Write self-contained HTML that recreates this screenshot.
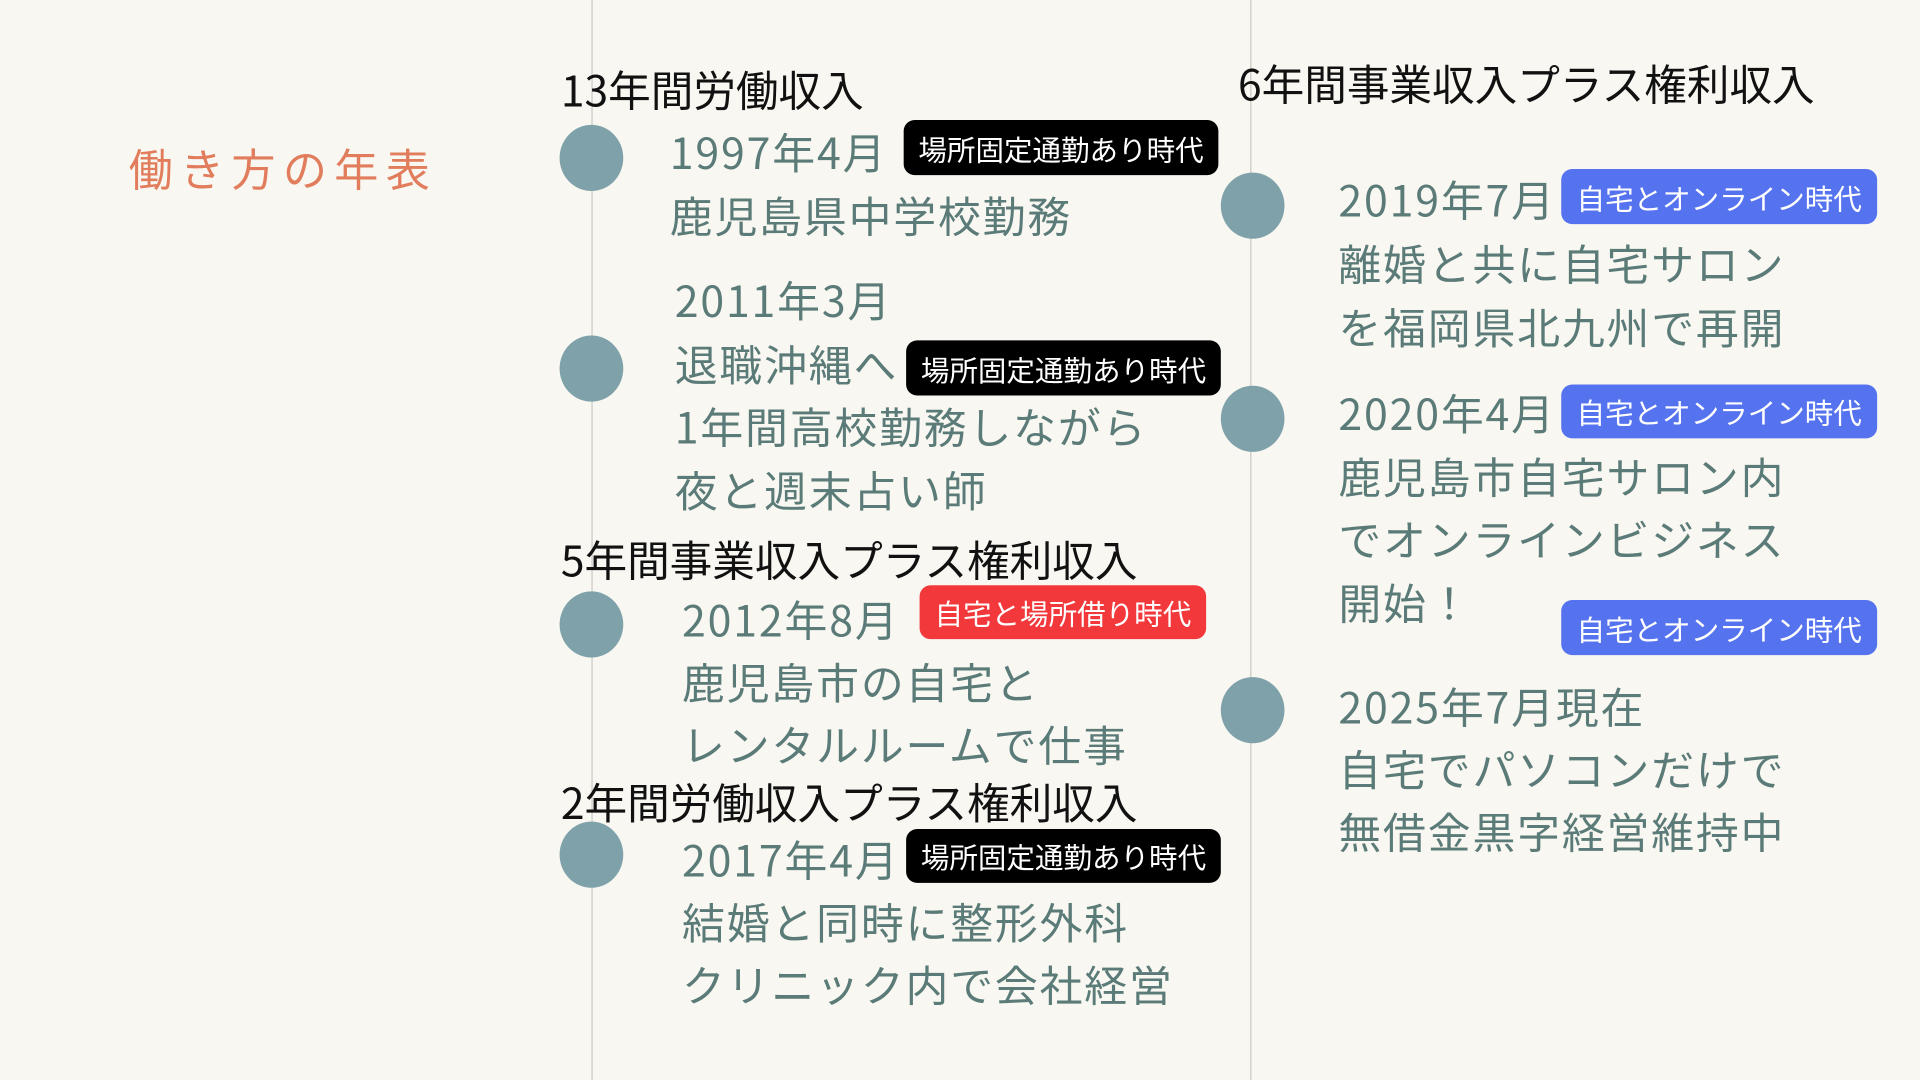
<!DOCTYPE html>
<html><head><meta charset="utf-8"><style>
html,body{margin:0;padding:0;width:1920px;height:1080px;overflow:hidden;background:#f9f7f1}
#s{position:absolute;left:0;top:0;width:1568px;height:882px;transform:scale(1.22449);transform-origin:0 0;font-family:"Noto Sans CJK JP","Liberation Sans",sans-serif}
.a{position:absolute;white-space:nowrap;line-height:50px;height:50px}
.h{font-size:34.8px;color:#111;letter-spacing:0}
.t{font-size:35px;color:#5b7b78;letter-spacing:1.5px}
.c{position:absolute;width:52px;height:54px;border-radius:50%;background:#7fa2aa}
.b{position:absolute;display:flex;align-items:center;justify-content:center;color:#fff;font-size:23.3px;border-radius:9px;white-space:nowrap}
.k{background:#000}.r{background:#f2383a}.u{background:#5673ef}
.v{position:absolute;top:0;width:1px;height:882px;background:#c9c9c6}
</style></head><body><div id="s">
<div class="v" style="left:483px"></div>
<div class="v" style="left:1021px"></div>
<div class="a" style="left:105px;top:112px;font-size:36px;color:#e17d5c;letter-spacing:6px">働き方の年表</div>

<div class="a h" style="left:458px;top:48px">13年間労働収入</div>
<div class="c" style="left:457px;top:102px"></div>
<div class="a t" style="left:547px;top:99px">1997年4月</div>
<div class="b k" style="left:738px;top:98px;width:257px;height:45px">場所固定通勤あり時代</div>
<div class="a t" style="left:547px;top:151px">鹿児島県中学校勤務</div>

<div class="c" style="left:457px;top:274px"></div>
<div class="a t" style="left:551px;top:220px">2011年3月</div>
<div class="a t" style="left:551px;top:272px">退職沖縄へ</div>
<div class="b k" style="left:740px;top:278px;width:257px;height:45px">場所固定通勤あり時代</div>
<div class="a t" style="left:551px;top:323px">1年間高校勤務しながら</div>
<div class="a t" style="left:551px;top:375px">夜と週末占い師</div>

<div class="a h" style="left:458px;top:432px">5年間事業収入プラス権利収入</div>
<div class="c" style="left:457px;top:483px"></div>
<div class="a t" style="left:557px;top:481px">2012年8月</div>
<div class="b r" style="left:751px;top:478px;width:234px;height:44px">自宅と場所借り時代</div>
<div class="a t" style="left:557px;top:532px">鹿児島市の自宅と</div>
<div class="a t" style="left:557px;top:583px">レンタルルームで仕事</div>

<div class="a h" style="left:458px;top:630px">2年間労働収入プラス権利収入</div>
<div class="c" style="left:457px;top:671px"></div>
<div class="a t" style="left:557px;top:677px">2017年4月</div>
<div class="b k" style="left:740px;top:677px;width:257px;height:44px">場所固定通勤あり時代</div>
<div class="a t" style="left:557px;top:728px">結婚と同時に整形外科</div>
<div class="a t" style="left:557px;top:779px">クリニック内で会社経営</div>

<div class="a h" style="left:1011px;top:43px">6年間事業収入プラス権利収入</div>
<div class="c" style="left:997px;top:141px"></div>
<div class="a t" style="left:1093px;top:138px">2019年7月</div>
<div class="b u" style="left:1275px;top:138px;width:258px;height:45px">自宅とオンライン時代</div>
<div class="a t" style="left:1093px;top:190px">離婚と共に自宅サロン</div>
<div class="a t" style="left:1093px;top:242px">を福岡県北九州で再開</div>

<div class="c" style="left:997px;top:315px"></div>
<div class="a t" style="left:1093px;top:312px">2020年4月</div>
<div class="b u" style="left:1275px;top:314px;width:258px;height:44px">自宅とオンライン時代</div>
<div class="a t" style="left:1093px;top:364px">鹿児島市自宅サロン内</div>
<div class="a t" style="left:1093px;top:415px">でオンラインビジネス</div>
<div class="a t" style="left:1093px;top:467px">開始！</div>
<div class="b u" style="left:1275px;top:490px;width:258px;height:45px">自宅とオンライン時代</div>

<div class="c" style="left:997px;top:553px"></div>
<div class="a t" style="left:1093px;top:552px">2025年7月現在</div>
<div class="a t" style="left:1093px;top:603px">自宅でパソコンだけで</div>
<div class="a t" style="left:1093px;top:654px">無借金黒字経営維持中</div>
</div></body></html>
